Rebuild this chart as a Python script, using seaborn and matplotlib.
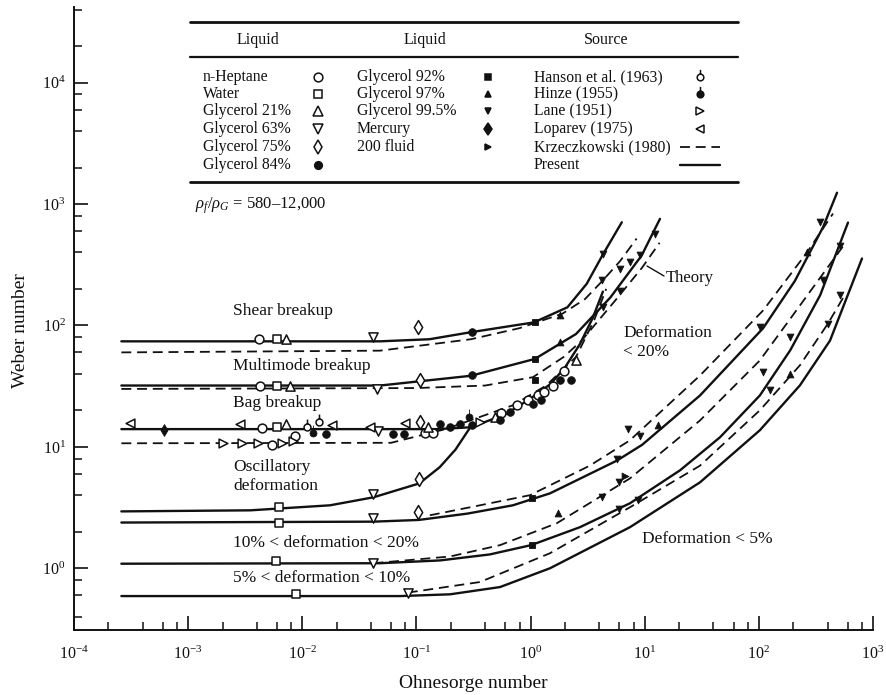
import numpy as np
import pandas as pd
import seaborn as sns
import matplotlib
matplotlib.use("Agg")
import matplotlib.pyplot as plt
from matplotlib.path import Path
from matplotlib.lines import Line2D
from matplotlib.ticker import FixedLocator, NullFormatter, LogFormatterSciNotation

# ---------------- data ----------------
shear_present_oh = [2.6e-4, 0.048, 0.13, 0.30, 1.07, 2.1, 3.1, 4.3, 6.3]
shear_present_we = [74, 74, 77, 88, 106, 141, 220, 384, 708]
shear_krz_oh = [2.6e-4, 0.048, 0.30, 0.80, 1.9, 3.0, 4.3, 6.1, 8.5]
shear_krz_we = [60, 62, 77, 95, 125, 165, 235, 340, 520]

multi_present_oh = [2.6e-4, 0.048, 0.30, 1.09, 2.5, 5.0, 9.4, 13.6]
multi_present_we = [32, 32, 38.5, 53, 85, 170, 377, 755]
multi_krz_oh = [2.6e-4, 0.10, 0.40, 1.05, 1.95, 2.8, 5.5, 9.5, 13.5]
multi_krz_we = [30, 30.5, 32, 37.5, 55, 75, 160, 300, 480]

bag_present_oh = [2.6e-4, 0.15, 0.30, 0.60, 1.0, 1.5, 2.0, 2.7, 3.5, 4.3]
bag_present_we = [14, 14, 14.5, 18.5, 25, 33, 45, 70, 115, 190]
bag_krz_oh = [2.6e-4, 0.06, 0.18, 0.70, 1.37, 2.5, 3.6, 4.6]
bag_krz_we = [10.7, 10.8, 14, 22, 32, 55, 110, 200]

osc_present_oh = [2.6e-4, 3.5e-3, 0.0175, 0.042, 0.106, 0.16, 0.22, 0.295]
osc_present_we = [2.94, 3.0, 3.3, 3.84, 5.0, 6.8, 9.5, 14.4]

def20_present_oh = [2.6e-4, 0.042, 0.105, 0.28, 0.70, 1.48, 5.7, 9.5, 30.5, 109, 207, 365, 484]
def20_present_we = [2.38, 2.42, 2.5, 2.82, 3.3, 4.14, 7.7, 10.4, 26.5, 95, 233, 645, 1240]
def20_krz_oh = [0.131, 0.36, 0.99, 3.3, 7.4, 30.5, 109, 264, 446]
def20_krz_we = [2.73, 3.3, 4.0, 7.0, 11.3, 38.7, 133, 399, 835]

def10_present_oh = [2.6e-4, 0.048, 0.161, 0.44, 1.01, 2.71, 7.43, 20.4, 45.7, 102, 188, 344, 604]
def10_present_we = [1.09, 1.1, 1.16, 1.3, 1.55, 2.18, 3.43, 6.41, 12.0, 26.5, 62.3, 177, 704]
def10_krz_oh = [0.042, 0.197, 0.54, 1.70, 7.43, 30.5, 102, 229, 569]
def10_krz_we = [1.10, 1.25, 1.55, 2.35, 5.5, 16.5, 51.5, 146, 473]

def5_present_oh = [2.6e-4, 0.072, 0.197, 0.54, 1.48, 7.43, 30.5, 102, 229, 420, 801]
def5_present_we = [0.59, 0.59, 0.61, 0.70, 1.0, 2.18, 5.1, 13.7, 32.1, 75, 356]
def5_krz_oh = [0.084, 0.36, 1.48, 7.43, 30.5, 102, 229, 404, 569]
def5_krz_we = [0.63, 0.77, 1.33, 3.18, 7.0, 20, 47, 104, 180]

# Measured points, by liquid / source
heptane_oh = [4.2e-3, 4.3e-3, 4.4e-3, 5.4e-3, 8.6e-3, 0.119, 0.141, 0.55, 0.76, 0.94, 1.17, 1.31, 1.56, 1.95]
heptane_we = [77.7, 31.5, 14.4, 10.3, 12.4, 13.0, 13.0, 19.0, 22.0, 24.1, 26.5, 28.3, 31.5, 41.9]
water_oh = [6.0e-3, 6.0e-3, 6.0e-3, 6.2e-3, 6.2e-3, 5.9e-3, 8.8e-3]
water_we = [77.7, 31.5, 14.7, 3.2, 2.36, 1.15, 0.61]
gly21_oh = [7.2e-3, 7.8e-3, 7.2e-3, 0.127, 0.489, 2.52]
gly21_we = [77.7, 32, 15.3, 14.5, 17.6, 51.5]
gly63_oh = [0.042, 0.045, 0.046, 0.042, 0.042, 0.042, 0.085]
gly63_we = [81, 30.1, 13.5, 4.1, 2.59, 1.10, 0.63]
gly75_oh = [0.104, 0.107, 0.107, 0.106, 0.104]
gly75_we = [98, 35.3, 16.0, 5.47, 2.9]
gly84_oh = [0.305, 0.305, 0.0161, 0.0628, 0.0778, 0.161, 0.197, 0.241, 0.305, 0.54, 0.66, 1.06, 1.23, 1.81, 2.26]
gly84_we = [88, 38.8, 12.7, 12.7, 12.7, 15.3, 14.5, 15.5, 15.0, 16.5, 19.3, 22.7, 24.1, 35.3, 35.8]
gly92_oh = [1.09, 1.09, 1.09, 1.02, 1.02]
gly92_we = [106, 53.2, 35.3, 3.82, 1.55]
gly97_oh = [1.81, 1.81, 1.75, 13.1, 262, 188]
gly97_we = [121, 72.9, 2.85, 15.0, 401, 40]
gly995_oh = [4.2, 4.34, 6.08, 7.43, 9.1, 12.3, 6.08, 4.34, 102, 344, 514, 367, 514, 406, 188, 109,
             9.1, 7.2, 5.69, 4.2, 6.0, 8.8, 6.0, 125]
gly995_we = [235, 390, 293, 332, 377, 569, 194, 141, 96.9, 708, 455, 235, 177, 103, 80, 41,
             12.4, 14.1, 8.0, 3.86, 5.1, 3.63, 3.1, 29.2]
mercury_oh = [6.1e-4]
mercury_we = [13.7]
fluid200_oh = [6.7]
fluid200_we = [5.8]
hanson_oh = [0.0109, 0.0141]
hanson_we = [14.5, 16.0]
hinze_oh = [0.0125, 0.29]
hinze_we = [13.0, 17.6]
lane_oh = [2.03e-3, 2.94e-3, 4.12e-3, 6.6e-3, 8.3e-3, 0.361]
lane_we = [10.7, 10.7, 10.8, 10.8, 11.1, 16.0]
loparev_oh = [3.1e-4, 2.84e-3, 0.0181, 0.039, 0.0797]
loparev_we = [15.6, 15.3, 15.0, 14.5, 15.7]

x_ticks = [1e-4, 1e-3, 1e-2, 1e-1, 1e0, 1e1, 1e2, 1e3]
y_ticks = [1e0, 1e1, 1e2, 1e3, 1e4]

# ---------------- style ----------------
sns.set_theme(style="ticks")
plt.rcParams["font.family"] = ["Liberation Serif", "DejaVu Serif"]
plt.rcParams["mathtext.fontset"] = "custom"
plt.rcParams["mathtext.rm"] = "Liberation Serif"
plt.rcParams["mathtext.it"] = "Liberation Serif:italic"
plt.rcParams["mathtext.bf"] = "Liberation Serif:bold"

W, H = 886, 695
fig = plt.figure(figsize=(W / 100, H / 100), dpi=100, facecolor="white")
ax = fig.add_axes([74 / W, (H - 630) / H, (873 - 74) / W, (630 - 7) / H])
ax.set_facecolor("white")
ax.set_xscale("log")
ax.set_yscale("log")
ax.set_xlim(1e-4, 1e3)
ax.set_ylim(0.31, 4.2e4)

K = "#111111"
SOLID = dict(color=K, lw=1.7, linestyle="-")
DASH = dict(color=K, lw=1.3, linestyle=(0, (5.5, 3.2)))

def curve(oh, we, kw):
    sns.lineplot(x=oh, y=we, ax=ax, sort=False, estimator=None, legend=False, zorder=2, **kw)

curve(shear_present_oh, shear_present_we, SOLID)
curve(shear_krz_oh, shear_krz_we, DASH)
curve(multi_present_oh, multi_present_we, SOLID)
curve(multi_krz_oh, multi_krz_we, DASH)
curve(bag_present_oh, bag_present_we, SOLID)
curve(bag_krz_oh, bag_krz_we, DASH)
curve(osc_present_oh, osc_present_we, SOLID)
curve(def20_present_oh, def20_present_we, SOLID)
curve(def20_krz_oh, def20_krz_we, DASH)
curve(def10_present_oh, def10_present_we, SOLID)
curve(def10_krz_oh, def10_krz_we, DASH)
curve(def5_present_oh, def5_present_we, SOLID)
curve(def5_krz_oh, def5_krz_we, DASH)

_circ = Path.unit_circle()
_stem = Path([[0, 1.0], [0, 2.3]], [Path.MOVETO, Path.LINETO])
FLAG = Path.make_compound_path(_circ, _stem)

OPEN = dict(color="white", edgecolor=K, linewidth=1.1)
FILL = dict(color=K, edgecolor=K, linewidth=0.6)

def pts(oh, we, marker, size, kw):
    sns.scatterplot(x=oh, y=we, ax=ax, marker=marker, s=size, legend=False, zorder=4, **kw)

pts(heptane_oh, heptane_we, "o", 40, OPEN)
pts(water_oh, water_we, "s", 36, OPEN)
pts(gly21_oh, gly21_we, "^", 44, OPEN)
pts(gly63_oh, gly63_we, "v", 44, OPEN)
pts(gly75_oh, gly75_we, "d", 50, OPEN)
pts(gly84_oh, gly84_we, "o", 30, FILL)
pts(gly92_oh, gly92_we, "s", 22, FILL)
pts(gly97_oh, gly97_we, "^", 24, FILL)
pts(gly995_oh, gly995_we, "v", 24, FILL)
pts(mercury_oh, mercury_we, "d", 36, FILL)
pts(fluid200_oh, fluid200_we, ">", 24, FILL)
pts(hanson_oh, hanson_we, FLAG, 130, OPEN)
pts(hinze_oh, hinze_we, FLAG, 130, FILL)
pts(lane_oh, lane_we, ">", 40, OPEN)
pts(loparev_oh, loparev_we, "<", 40, OPEN)

# ---------------- axes cosmetics ----------------
for s in ("top", "right"):
    ax.spines[s].set_visible(False)
for s in ("left", "bottom"):
    ax.spines[s].set_linewidth(1.4)
    ax.spines[s].set_color(K)
minor_x = [m * 10.0 ** e for e in range(-4, 3) for m in (2, 4, 6, 8)]
minor_y = [m * 10.0 ** e for e in range(-1, 5) for m in (2, 4, 6, 8)]
minor_y = [v for v in minor_y if 0.31 < v < 4.2e4]
ax.xaxis.set_major_locator(FixedLocator(x_ticks))
ax.yaxis.set_major_locator(FixedLocator(y_ticks))
ax.xaxis.set_major_formatter(LogFormatterSciNotation())
ax.yaxis.set_major_formatter(LogFormatterSciNotation())
ax.xaxis.set_minor_locator(FixedLocator(minor_x))
ax.yaxis.set_minor_locator(FixedLocator(minor_y))
ax.xaxis.set_minor_formatter(NullFormatter())
ax.yaxis.set_minor_formatter(NullFormatter())
ax.tick_params(which="major", direction="in", length=10, width=1.2, color=K, labelsize=11.5, labelcolor=K)
ax.tick_params(which="minor", direction="in", length=6, width=1.1, color=K)
ax.tick_params(axis="x", which="major", pad=11)
ax.tick_params(axis="y", which="major", pad=6)
ax.set_xlabel("Ohnesorge number", fontsize=14, color=K, labelpad=9)
ax.set_ylabel("Weber number", fontsize=14, color=K)
ax.yaxis.set_label_coords(-0.056, 0.48)
ax.grid(False)

# ---------------- annotations ----------------
def ftxt(x, y, s, size=12.5, ha="left", va="center", **kw):
    fig.text(x / W, 1 - y / H, s, fontsize=size, ha=ha, va=va, color=K, **kw)

ftxt(233, 311, "Shear breakup")
ftxt(233, 366, "Multimode breakup")
ftxt(233, 403, "Bag breakup")
ftxt(233, 467, "Oscillatory")
ftxt(233, 486, "deformation")
ftxt(233, 543, "10% < deformation < 20%")
ftxt(233, 578, "5% < deformation < 10%")
ftxt(623, 333, "Deformation")
ftxt(623, 352, "< 20%")
ftxt(642, 539, "Deformation < 5%")
ftxt(666, 278, "Theory", size=12)
fig.add_artist(Line2D([647 / W, 664 / W], [1 - 266 / H, 1 - 276 / H], color=K, lw=1.0))
ftxt(195, 206, r"$\rho_f/\rho_G$ = 580–12,000", size=12)

# ---------------- table-style legend ----------------
L, R = 190, 738
for yy, lw in ((22, 2.0), (57, 1.6), (182, 2.0)):
    fig.add_artist(Line2D([L / W, R / W], [1 - yy / H, 1 - yy / H], color=K, lw=lw))
ftxt(258, 40, "Liquid", size=11.5, ha="center")
ftxt(425, 40, "Liquid", size=11.5, ha="center")
ftxt(606, 40, "Source", size=11.5, ha="center")

rows = [77, 94, 111, 129, 147, 165]
col1 = [("n-Heptane", "o", 6.3, "open"), ("Water", "s", 6.0, "open"), ("Glycerol 21%", "^", 6.5, "open"),
        ("Glycerol 63%", "v", 6.5, "open"), ("Glycerol 75%", "d", 7.0, "open"), ("Glycerol 84%", "o", 5.5, "fill")]
col2 = [("Glycerol 92%", "s", 4.8, "fill"), ("Glycerol 97%", "^", 5.0, "fill"), ("Glycerol 99.5%", "v", 5.0, "fill"),
        ("Mercury", "d", 6.0, "fill"), ("200 fluid", ">", 5.0, "fill")]
col3 = [("Hanson et al. (1963)", FLAG, 11, "open"), ("Hinze (1955)", FLAG, 11, "fill"), ("Lane (1951)", ">", 6.3, "open"),
        ("Loparev (1975)", "<", 6.3, "open"), ("Krzeczkowski (1980)", "dash", 0, ""), ("Present", "solid", 0, "")]

def legend_col(items, tx, mx):
    for (label, mk, ms, kind), yy in zip(items, rows):
        ftxt(tx, yy, label, size=11.3)
        fy = 1 - yy / H
        if mk == "dash":
            fig.add_artist(Line2D([(mx - 20) / W, (mx + 20) / W], [fy, fy], **DASH))
        elif mk == "solid":
            fig.add_artist(Line2D([(mx - 20) / W, (mx + 20) / W], [fy, fy], **SOLID))
        else:
            fc = "white" if kind == "open" else K
            fig.add_artist(Line2D([mx / W], [fy], marker=mk, ms=ms, mfc=fc, mec=K, mew=1.1, ls="none"))

legend_col(col1, 203, 318)
legend_col(col2, 357, 488)
legend_col(col3, 534, 700)

fig.savefig("out.png", dpi=100, facecolor="white")
